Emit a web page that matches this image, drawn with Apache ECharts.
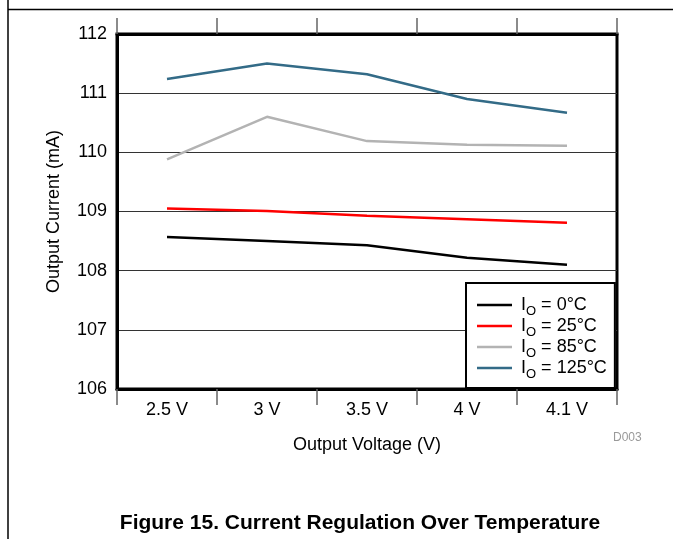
<!DOCTYPE html>
<html><head><meta charset="utf-8">
<script src="https://cdn.jsdelivr.net/npm/echarts@6/dist/echarts.min.js"></script>
<style>html,body{margin:0;padding:0;background:#fff}#c{width:673px;height:539px}</style>
</head><body><div id="c"></div>
<script>
const categories = ['2.5 V', '3 V', '3.5 V', '4 V', '4.1 V'];
const seriesNames = ['0°C', '25°C', '85°C', '125°C'];
const s0 = [108.57, 108.50, 108.43, 108.22, 108.10];
const s25 = [109.05, 109.01, 108.93, 108.87, 108.81];
const s85 = [109.88, 110.60, 110.19, 110.13, 110.11];
const s125 = [111.24, 111.50, 111.32, 110.90, 110.67];
const colors = ['#000000', '#ff0000', '#b3b3b3', '#336b87'];
const values = [s0, s25, s85, s125];
const FONT = 'Liberation Sans, Arial, sans-serif';

const chart = echarts.init(document.getElementById('c'), null, {renderer: 'canvas'});
chart.setOption({
  animation: false,
  textStyle: {fontFamily: FONT},
  grid: {left: 117, right: 56, top: 34, bottom: 150, show: true, borderColor: '#000', borderWidth: 3, backgroundColor: 'transparent'},
  xAxis: [{
    type: 'category', data: categories, boundaryGap: true, position: 'bottom',
    axisLine: {show: true, lineStyle: {color: '#000', width: 3}},
    axisTick: {show: true, length: 16, alignWithLabel: false, lineStyle: {color: '#666', width: 1.5}},
    axisLabel: {color: '#000', fontSize: 18, margin: 12, fontFamily: FONT},
    name: 'Output Voltage (V)', nameLocation: 'middle', nameGap: 47,
    nameTextStyle: {color: '#000', fontSize: 18, fontFamily: FONT},
    splitLine: {show: false}
  }, {
    type: 'category', data: categories, boundaryGap: true, position: 'top',
    axisLine: {show: true, lineStyle: {color: '#000', width: 3}},
    axisTick: {show: true, length: 16, lineStyle: {color: '#666', width: 1.5}},
    axisLabel: {show: false}, splitLine: {show: false}
  }],
  yAxis: {
    type: 'value', min: 106, max: 112, interval: 1,
    axisLine: {show: true, lineStyle: {color: '#000', width: 3}},
    axisTick: {show: false},
    axisLabel: {color: '#000', fontSize: 18, margin: 10, fontFamily: FONT},
    splitLine: {show: true, lineStyle: {color: '#333', width: 1}},
    name: 'Output Current (mA)', nameLocation: 'middle', nameGap: 54,
    nameTextStyle: {color: '#000', fontSize: 18, fontFamily: FONT}
  },
  legend: {
    orient: 'vertical', left: 466, top: 283,
    padding: [13, 8, 7, 11], itemGap: -1,
    borderColor: '#000', borderWidth: 2, backgroundColor: '#fff',
    icon: 'rect', itemWidth: 35, itemHeight: 2.5,
    data: seriesNames,
    formatter: function (n) { return '{a|I}{b|O}{a| = ' + n + '}'; },
    textStyle: {
      padding: [0, 0, 0, 4],
      rich: {
        a: {fontSize: 18, color: '#000', fontFamily: FONT, lineHeight: 18, verticalAlign: 'bottom'},
        b: {fontSize: 13, color: '#000', fontFamily: FONT, lineHeight: 18, verticalAlign: 'bottom', padding: [0, 0, -4, 0]}
      }
    }
  },
  series: seriesNames.map((n, i) => ({
    name: n, type: 'line', data: values[i], symbol: 'none',
    lineStyle: {color: colors[i], width: 2.5}, itemStyle: {color: colors[i]}
  })),
  graphic: [
    {type: 'line', shape: {x1: 8, y1: 9.5, x2: 673, y2: 9.5}, style: {stroke: '#000', lineWidth: 1.5}},
    {type: 'line', shape: {x1: 8, y1: 0, x2: 8, y2: 539}, style: {stroke: '#000', lineWidth: 1.5}},
    {type: 'text', left: 613, top: 432, style: {text: 'D003', fill: '#999', fontSize: 12, fontFamily: FONT}},
    {type: 'text', x: 360, y: 523, style: {text: 'Figure 15. Current Regulation Over Temperature', fill: '#000', fontSize: 21, fontWeight: 'bold', fontFamily: FONT, textAlign: 'center', textVerticalAlign: 'middle'}}
  ]
});
</script></body></html>
